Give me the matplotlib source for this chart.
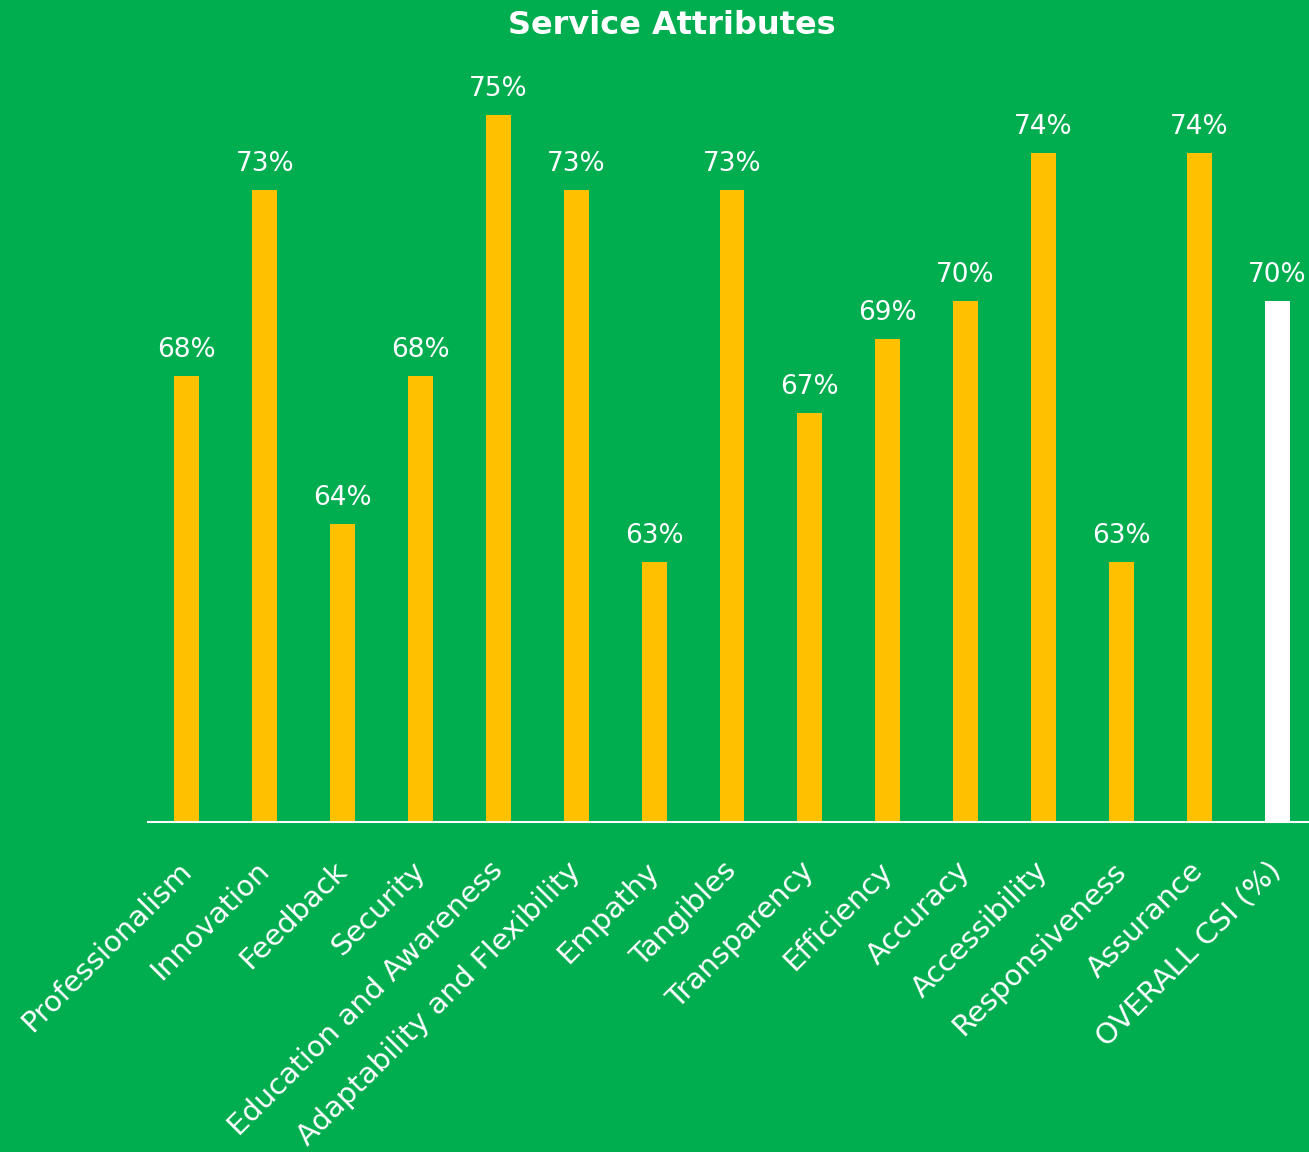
import numpy as np
import matplotlib.pyplot as plt

attributes = ['Professionalism', 'Innovation', 'Feedback', 'Security',
              'Education and Awareness', 'Adaptability and Flexibility',
              'Empathy', 'Tangibles', 'Transparency', 'Efficiency',
              'Accuracy', 'Accessibility', 'Responsiveness', 'Assurance',
              'OVERALL CSI (%)']
scores = [68, 73, 64, 68, 75, 73, 63, 73, 67, 69, 70, 74, 63, 74, 70]

green = '#00AD4F'
gold = '#FFC000'

plt.rcParams['font.family'] = ['DejaVu Sans']

fig = plt.figure(figsize=(13.09, 11.52), dpi=100, facecolor=green)
ax = fig.add_axes([148 / 1309, 1 - 822 / 1152, 1168 / 1309, (822 - 41) / 1152])
ax.set_facecolor(green)

x = np.arange(len(attributes))
colors = [gold] * (len(scores) - 1) + ['white']
bars = ax.bar(x, scores, width=0.32, color=colors, zorder=2)

for xi, s in zip(x, scores):
    ax.text(xi, s + 0.35, f'{s}%', ha='center', va='bottom',
            color='white', fontsize=19)

ax.set_xlim(-0.5, len(attributes) - 0.5)
ax.set_ylim(56, 77)
ax.set_yticks([])
ax.set_xticks(x)
ax.set_xticklabels(attributes, rotation=45, ha='right', va='center',
                   rotation_mode='anchor', color='white', fontsize=21)
ax.tick_params(axis='x', length=0, pad=32)

for side in ['top', 'right', 'left']:
    ax.spines[side].set_visible(False)
ax.spines['bottom'].set_color('white')
ax.spines['bottom'].set_linewidth(1.5)

fig.text(0.513, 0.978, 'Service Attributes', ha='center', va='center',
         color='white', fontsize=23, fontweight='bold')

fig.savefig('out.png', dpi=100, facecolor=green)
